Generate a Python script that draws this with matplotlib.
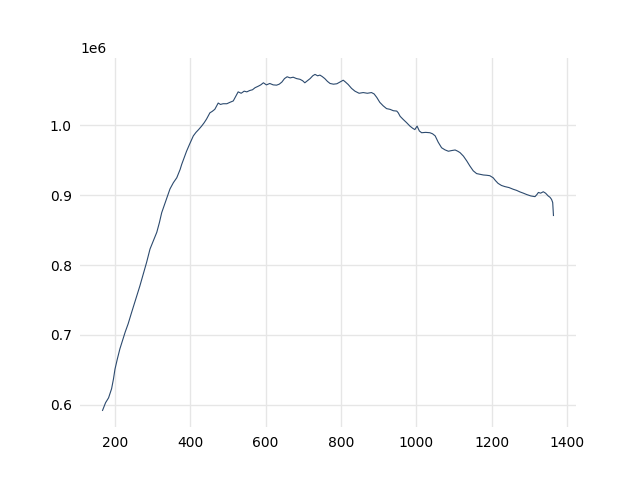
import matplotlib
matplotlib.use("Agg")
import matplotlib.pyplot as plt

# values
x_vals = [167, 175, 183, 191, 196, 200, 206, 213, 220, 227, 235, 244, 255, 266, 275,
          284, 293, 302, 311, 318, 324, 335, 346, 355, 364, 373, 377, 384, 390, 398,
          408, 415, 422, 430, 437, 443, 452, 458, 465, 474, 480, 487, 497, 505, 514,
          520, 527, 535, 543, 550, 558, 565, 572, 580, 587, 594, 602, 611, 620, 629,
          636, 643, 650, 657, 665, 673, 682, 691, 698, 704, 711, 718, 725, 731, 738,
          744, 750, 757, 764, 771, 780, 789, 797, 806, 812, 819, 828, 837, 848, 859,
          870, 881, 888, 895, 903, 912, 921, 930, 939, 948, 952, 957, 965, 974, 983,
          990, 996, 1002, 1008, 1014, 1025, 1036, 1043, 1050, 1058, 1067, 1076, 1085,
          1094, 1103, 1110, 1116, 1125, 1134, 1142, 1151, 1160, 1169, 1178, 1187,
          1195, 1204, 1210, 1217, 1226, 1235, 1246, 1257, 1266, 1275, 1284, 1293,
          1304, 1315, 1320, 1324, 1330, 1337, 1343, 1350, 1355, 1359, 1362, 1364]
y_vals = [0.592, 0.603, 0.610, 0.623, 0.637, 0.651, 0.665, 0.680, 0.692, 0.704, 0.716,
          0.732, 0.751, 0.770, 0.787, 0.804, 0.823, 0.835, 0.847, 0.861, 0.875, 0.892,
          0.909, 0.918, 0.925, 0.937, 0.944, 0.954, 0.963, 0.973, 0.985, 0.990, 0.994,
          0.999, 1.004, 1.009, 1.018, 1.020, 1.023, 1.032, 1.030, 1.031, 1.031, 1.033,
          1.035, 1.041, 1.048, 1.046, 1.049, 1.048, 1.050, 1.051, 1.054, 1.056, 1.058,
          1.061, 1.058, 1.060, 1.058, 1.0576, 1.059, 1.062, 1.067, 1.0696, 1.068, 1.069,
          1.067, 1.066, 1.064, 1.061, 1.064, 1.067, 1.071, 1.073, 1.071, 1.072, 1.070,
          1.067, 1.063, 1.060, 1.059, 1.0596, 1.062, 1.0647, 1.062, 1.0586, 1.053,
          1.049, 1.046, 1.047, 1.046, 1.047, 1.045, 1.040, 1.033, 1.028, 1.024, 1.023,
          1.021, 1.0205, 1.018, 1.013, 1.0086, 1.004, 0.999, 0.996, 0.994, 0.999,
          0.992, 0.9895, 0.990, 0.9895, 0.988, 0.985, 0.976, 0.968, 0.965, 0.963,
          0.964, 0.9648, 0.963, 0.961, 0.956, 0.949, 0.942, 0.935, 0.931, 0.930,
          0.929, 0.9286, 0.928, 0.925, 0.921, 0.917, 0.914, 0.9124, 0.911, 0.9086,
          0.907, 0.9048, 0.903, 0.901, 0.899, 0.898, 0.901, 0.904, 0.903, 0.905,
          0.903, 0.899, 0.897, 0.894, 0.8896, 0.871]
y_vals = [v * 1e6 for v in y_vals]

fig, ax = plt.subplots(figsize=(6.4, 4.8), dpi=100)
ax.plot(x_vals, y_vals, color="#2c4a6e", linewidth=0.8)

ax.set_xticks([200, 400, 600, 800, 1000, 1200, 1400])
ax.grid(True, color="#e6e6e6", linewidth=1)
ax.set_axisbelow(True)
for s in ax.spines.values():
    s.set_visible(False)
ax.tick_params(length=0, pad=6)

fig.savefig("out.png")
